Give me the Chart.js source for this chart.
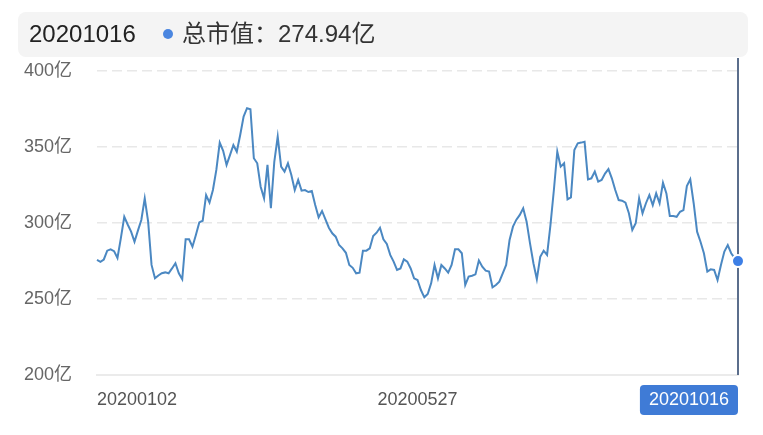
<!DOCTYPE html>
<html>
<head>
<meta charset="utf-8">
<title>总市值</title>
<script src="https://cdn.jsdelivr.net/npm/chart.js@4/dist/chart.umd.min.js"></script>
<style>
  html, body { margin: 0; padding: 0; background: #fff; }
  #wrap { width: 763px; height: 435px; }
</style>
</head>
<body>
<div id="wrap"><canvas id="chart" width="763" height="435"></canvas></div>
<script>
// trading days 2020-01-02 .. 2020-10-16
const dates = [
  '20200102','20200103','20200106','20200107','20200108','20200109','20200110','20200113','20200114','20200115','20200116','20200117','20200120','20200121','20200122','20200123',
  '20200203','20200204','20200205','20200206','20200207','20200210','20200211','20200212','20200213','20200214','20200217','20200218','20200219','20200220','20200221','20200224','20200225','20200226','20200227','20200228',
  '20200302','20200303','20200304','20200305','20200306','20200309','20200310','20200311','20200312','20200313','20200316','20200317','20200318','20200319','20200320','20200323','20200324','20200325','20200326','20200327','20200330','20200331',
  '20200401','20200402','20200403','20200407','20200408','20200409','20200410','20200413','20200414','20200415','20200416','20200417','20200420','20200421','20200422','20200423','20200424','20200427','20200428','20200429','20200430',
  '20200506','20200507','20200508','20200511','20200512','20200513','20200514','20200515','20200518','20200519','20200520','20200521','20200522','20200525','20200526','20200527','20200528','20200529',
  '20200601','20200602','20200603','20200604','20200605','20200608','20200609','20200610','20200611','20200612','20200615','20200616','20200617','20200618','20200619','20200622','20200623','20200624','20200629','20200630',
  '20200701','20200702','20200703','20200706','20200707','20200708','20200709','20200710','20200713','20200714','20200715','20200716','20200717','20200720','20200721','20200722','20200723','20200724','20200727','20200728','20200729','20200730','20200731',
  '20200803','20200804','20200805','20200806','20200807','20200810','20200811','20200812','20200813','20200814','20200817','20200818','20200819','20200820','20200821','20200824','20200825','20200826','20200827','20200828','20200831',
  '20200901','20200902','20200903','20200904','20200907','20200908','20200909','20200910','20200911','20200914','20200915','20200916','20200917','20200918','20200921','20200922','20200923','20200924','20200925','20200928','20200929','20200930',
  '20201009','20201012','20201013','20201014','20201015','20201016'
];

// 总市值 (亿)
const marketCap = [
  275.7, 274.5, 276, 281.8, 282.7, 281.5, 277, 290, 304.1, 299,
  294.3, 287.7, 295, 302, 316.2, 300.9, 272.4, 263.6, 265.5, 267,
  267.5, 266.9, 270.1, 273.5, 266.9, 263, 289.3, 289.3, 284.4, 292.1,
  300.4, 301.5, 318.4, 313.4, 321.7, 334.9, 352.9, 347.5, 338.2, 344.7,
  351.3, 346.9, 357.9, 370, 375.5, 374.8, 342.6, 339.3, 323.9, 316.2,
  338.2, 309.7, 340.3, 356.8, 337.1, 333.8, 339.3, 331.6, 321.7, 328.3,
  321.3, 321.7, 320.4, 321, 311.8, 303.7, 307.9, 302.4, 296.9, 293.2,
  291, 285.5, 283.3, 280.4, 272.4, 270.5, 266.9, 267.3, 281.8, 281.8,
  283.3, 291.4, 293.6, 296.9, 289.3, 286.2, 279, 274.6, 269.1, 270.1,
  276.1, 274.6, 270.1, 263.6, 262.5, 255.9, 251.1, 253.3, 260.3, 272.4,
  263.6, 272.4, 270.1, 267.3, 272.4, 282.7, 282.7, 280.1, 259.2, 264.7,
  265.3, 266.2, 275.4, 271.3, 268.6, 268, 257.7, 259.2, 261.4, 266.9,
  272.4, 288.8, 297.6, 302.2, 305.3, 309.7, 300.9, 286.6, 273.5, 263,
  277.8, 281.8, 279, 298.7, 321.7, 346.9, 337.1, 339.3, 315.6, 316.9,
  348, 352.4, 352.9, 353.5, 328.7, 329.4, 333.8, 327.2, 328.3, 332.5,
  335.5, 329.4, 321.7, 315.1, 314.7, 313.4, 306.4, 295.4, 299.8, 316.2,
  306.4, 313, 318.4, 311.8, 319.5, 313, 326.5, 319.5, 304.6, 304.6,
  304.1, 307.4, 308.5, 324.3, 328.7, 313, 294.3, 287.7, 280.1, 268,
  269.5, 269.1, 262.5, 272.4, 281.2, 285.5, 280.1, 277, 274.94
];

const yTicks = [200, 250, 300, 350, 400];
const xTickDates = ['20200102', '20200527', '20201016'];

const FONT = '"Helvetica Neue", "Liberation Sans", Arial, "Noto Sans CJK SC", sans-serif';
const lastIdx = marketCap.length - 1;

// header bar + crosshair + axis pointer label, like the mobile tooltip
const pointerPlugin = {
    id: 'pointer',
    beforeDatasetsDraw(chart) {
        const ctx = chart.ctx;
        const x = chart.scales.x.getPixelForValue(lastIdx);
        ctx.save();
        ctx.strokeStyle = '#5b6e8c';
        ctx.lineWidth = 2;
        ctx.beginPath();
        ctx.moveTo(x, 58);
        ctx.lineTo(x, chart.chartArea.bottom);
        ctx.stroke();
        ctx.restore();
    },
    afterDraw(chart) {
        const ctx = chart.ctx;
        const xs = chart.scales.x;
        const x = xs.getPixelForValue(lastIdx);
        ctx.save();

        // axis pointer label
        ctx.font = '18px ' + FONT;
        const label = dates[lastIdx];
        const w = ctx.measureText(label).width + 18;
        ctx.fillStyle = '#3f7bd6';
        ctx.beginPath();
        ctx.roundRect(x - w, xs.top + 10, w, 30, 4);
        ctx.fill();
        ctx.fillStyle = '#fff';
        ctx.textAlign = 'center';
        ctx.textBaseline = 'middle';
        ctx.fillText(label, x - w / 2, xs.top + 25);

        // header bar
        ctx.fillStyle = '#f4f4f4';
        ctx.beginPath();
        ctx.roundRect(18, 12, 730, 45, 8);
        ctx.fill();
        ctx.font = '24px ' + FONT;
        ctx.textAlign = 'left';
        ctx.fillStyle = '#222';
        ctx.fillText(dates[lastIdx], 29, 35);
        ctx.fillStyle = '#4a86e0';
        ctx.beginPath();
        ctx.arc(168, 34, 5, 0, Math.PI * 2);
        ctx.fill();
        ctx.fillStyle = '#333';
        ctx.fillText('总市值：' + marketCap[lastIdx].toFixed(2) + '亿', 182, 35);
        ctx.restore();
    }
};

const ctx = document.getElementById('chart').getContext('2d');
const chart = new Chart(ctx, {
    type: 'line',
    data: {
        labels: dates,
        datasets: [{
            label: '总市值',
            data: marketCap,
            borderColor: '#4b88c2',
            borderWidth: 2,
            tension: 0,
            fill: false,
            pointRadius: c => c.dataIndex === lastIdx ? 6 : 0,
            pointBackgroundColor: '#3d7fe6',
            pointBorderColor: '#fff',
            pointBorderWidth: 2,
            pointHoverRadius: 0
        }]
    },
    options: {
        responsive: false,
        animation: false,
        events: [],
        layout: { padding: { left: 20, right: 25, top: 71, bottom: 0 } },
        plugins: {
            legend: { display: false },
            tooltip: { enabled: false }
        },
        scales: {
            x: {
                type: 'category',
                offset: false,
                grid: { display: false, drawTicks: false },
                border: { display: true, color: '#ebebeb', width: 2 },
                afterBuildTicks: scale => {
                    scale.ticks = xTickDates.map(d => ({ value: dates.indexOf(d) }));
                },
                afterFit: scale => { scale.height = 60; },
                ticks: {
                    autoSkip: false,
                    maxRotation: 0,
                    align: 'inner',
                    padding: 14,
                    color: '#555',
                    font: { family: FONT, size: 18 }
                }
            },
            y: {
                min: 200,
                max: 400,
                afterBuildTicks: scale => {
                    scale.ticks = yTicks.map(v => ({ value: v }));
                },
                afterFit: scale => { scale.width = 77; },
                grid: { color: '#e8e8e8', lineWidth: 1.5, drawTicks: false },
                border: { display: false, dash: [10, 5] },
                ticks: {
                    padding: 25,
                    color: '#666',
                    font: { family: FONT, size: 18 },
                    callback: v => v + '亿'
                }
            }
        }
    },
    plugins: [pointerPlugin]
});
</script>
</body>
</html>
